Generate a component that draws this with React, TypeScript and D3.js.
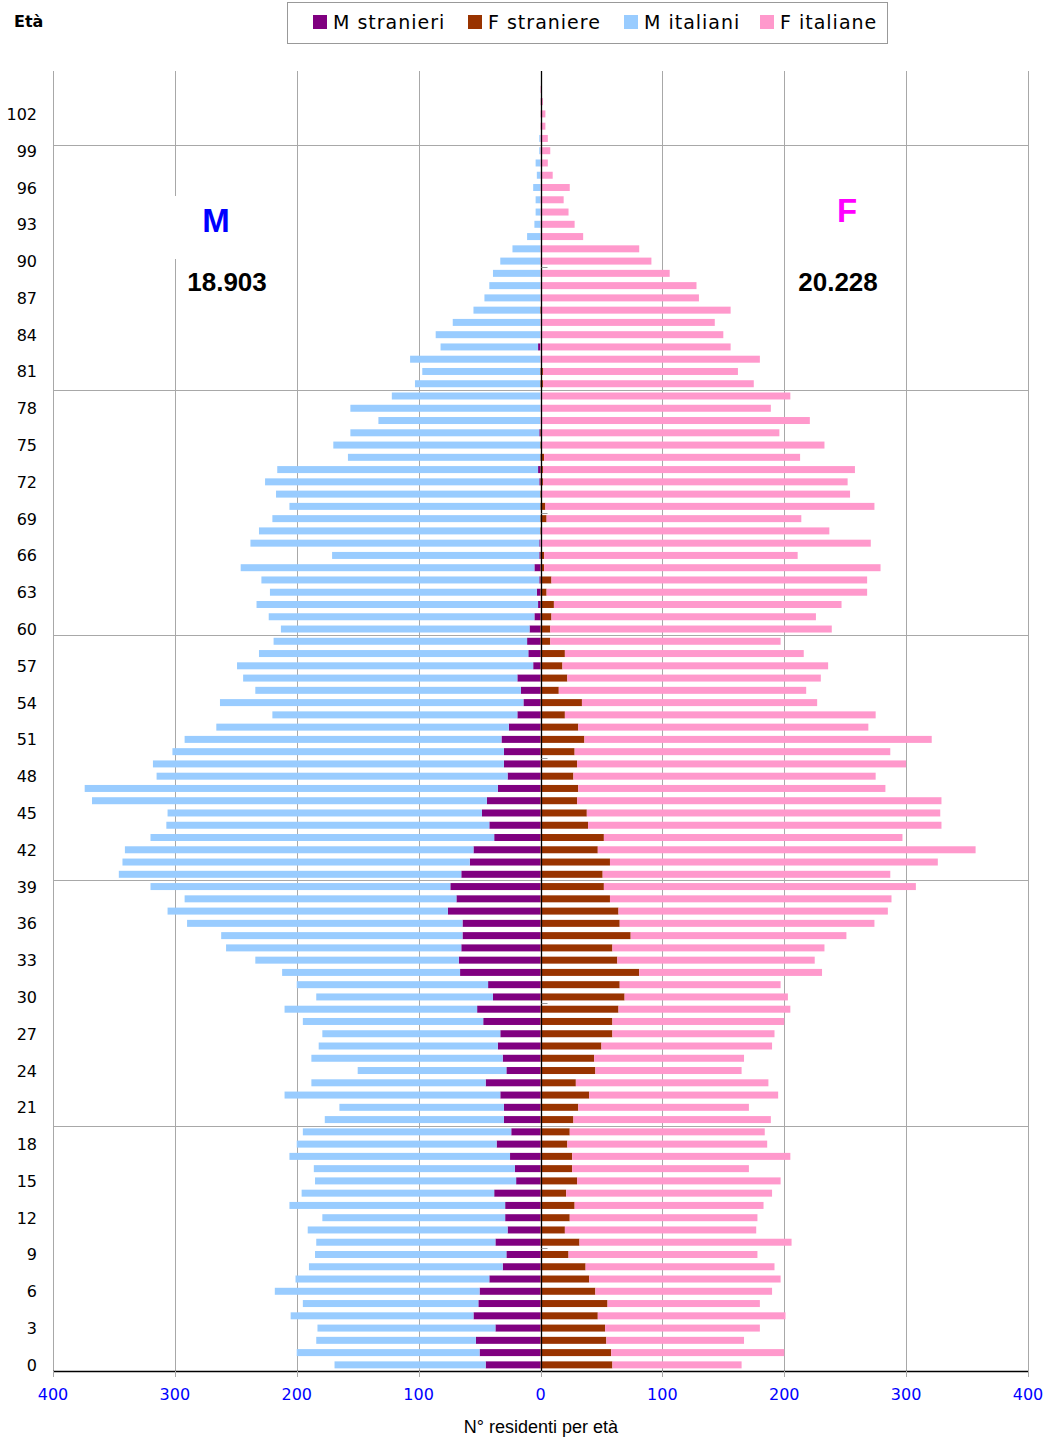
import React, { useEffect, useRef } from "react";
import * as d3 from "d3";

// età 0..105
const ages = d3.range(0, 106);

const mStranieri = [
  45, 50, 53, 37, 55, 51, 50, 42, 31, 28,
  37, 27, 29, 29, 38, 20, 21, 25, 36, 24,
  30, 30, 33, 45, 28, 31, 35, 33, 47, 52,
  39, 43, 66, 67, 65, 64, 64, 76, 69, 74,
  65, 58, 55, 38, 42, 48, 44, 35, 27, 30,
  30, 32, 26, 19, 14, 16, 19, 6, 10, 11,
  9, 5, 2, 3, 1, 5, 1, 1, 0, 0,
  0, 0, 1, 2, 0, 0, 1, 0, 0, 0,
  0, 0, 0, 2, 0, 0, 0, 0, 0, 0,
  0, 0, 0, 0, 0, 0, 0, 0, 0, 0,
  0, 0, 0, 0, 0, 0,
];

const mItaliani = [
  124, 150, 131, 146, 150, 144, 168, 159, 159, 157,
  147, 164, 150, 177, 158, 165, 165, 181, 164, 171,
  147, 135, 177, 143, 122, 157, 147, 146, 148, 158,
  145, 157, 146, 167, 193, 198, 226, 230, 223, 246,
  281, 285, 286, 282, 265, 258, 324, 339, 288, 288,
  272, 260, 240, 201, 249, 218, 225, 243, 221, 208,
  204, 218, 231, 219, 228, 241, 170, 237, 231, 220,
  206, 217, 225, 214, 158, 170, 155, 133, 156, 122,
  103, 97, 107, 80, 86, 72, 55, 46, 42, 39,
  33, 23, 11, 5, 4, 4, 6, 3, 4, 1,
  1, 0, 0, 0, 0, 0,
];

const fStraniere = [
  59, 58, 54, 53, 47, 55, 45, 40, 37, 23,
  32, 20, 24, 28, 21, 30, 26, 26, 22, 24,
  27, 31, 40, 29, 45, 44, 50, 59, 59, 64,
  69, 65, 81, 63, 59, 74, 65, 64, 57, 52,
  51, 57, 47, 52, 39, 38, 30, 31, 27, 30,
  28, 36, 31, 20, 34, 15, 22, 18, 20, 8,
  8, 9, 11, 5, 9, 3, 3, 0, 1, 5,
  4, 1, 2, 2, 3, 1, 1, 0, 0, 0,
  2, 2, 0, 0, 0, 0, 1, 0, 0, 0,
  0, 0, 0, 0, 0, 0, 0, 0, 0, 0,
  0, 0, 0, 0, 0, 0,
];

const fItaliane = [
  106, 142, 113, 127, 154, 125, 145, 157, 155, 155,
  174, 157, 154, 155, 169, 167, 145, 179, 164, 160,
  162, 140, 155, 158, 120, 123, 140, 133, 141, 141,
  134, 132, 150, 162, 174, 177, 209, 221, 231, 256,
  236, 269, 310, 245, 290, 290, 299, 252, 248, 270,
  259, 285, 238, 255, 193, 203, 208, 218, 196, 189,
  231, 217, 236, 263, 259, 276, 208, 271, 236, 209,
  270, 253, 250, 256, 210, 232, 195, 221, 189, 205,
  173, 160, 180, 156, 150, 143, 155, 130, 128, 106,
  91, 81, 35, 28, 23, 19, 24, 10, 6, 8,
  6, 4, 4, 2, 1, 0,
];

const xTicks = [-400, -300, -200, -100, 0, 100, 200, 300, 400];
const legendItems = ["M stranieri", "F straniere", "M italiani", "F italiane"];
const colors = ["#800080", "#993300", "#99ccff", "#ff99cc"];
const totM = "18.903";
const totF = "20.228";

const W = 1044;
const H = 1438;

const App = () => {
  const ref = useRef<SVGSVGElement | null>(null);

  useEffect(() => {
    const svg = d3.select(ref.current);
    svg.selectAll("*").remove();

    const left = 53, right = 1028, top = 71, bottom = 1371;
    const x = d3.scaleLinear().domain([-400, 400]).range([left, right]);
    const y = d3
      .scaleBand<number>()
      .domain([...ages].reverse())
      .range([top, bottom])
      .paddingInner(0.43)
      .paddingOuter(0.215);
    const yLin = d3.scaleLinear().domain([-0.5, 105.5]).range([bottom, top]);
    const font = "DejaVu Sans, Verdana, sans-serif";
    const arial = "Liberation Sans, Arial, sans-serif";

    // griglia verticale
    svg
      .append("g")
      .selectAll("line")
      .data(xTicks.filter((d) => d !== 0))
      .enter()
      .append("line")
      .attr("x1", (d) => Math.round(x(d)) + 0.5)
      .attr("x2", (d) => Math.round(x(d)) + 0.5)
      .attr("y1", top)
      .attr("y2", bottom)
      .attr("stroke", "#a8a8a8")
      .attr("stroke-width", 1);

    // griglia orizzontale ogni 20 età
    svg
      .append("g")
      .selectAll("line")
      .data([19.5, 39.5, 59.5, 79.5, 99.5])
      .enter()
      .append("line")
      .attr("x1", left)
      .attr("x2", right)
      .attr("y1", (d) => Math.round(yLin(d)) + 0.5)
      .attr("y2", (d) => Math.round(yLin(d)) + 0.5)
      .attr("stroke", "#a8a8a8")
      .attr("stroke-width", 1);

    // riquadro bianco dietro la "M"
    svg
      .append("rect")
      .attr("x", 160)
      .attr("y", 196)
      .attr("width", 110)
      .attr("height", 63)
      .attr("fill", "#fff");

    const bars = svg.append("g");
    const bh = y.bandwidth();

    // maschi: stranieri vicino all'asse, italiani all'esterno
    bars
      .selectAll("rect.ms")
      .data(ages)
      .enter()
      .append("rect")
      .attr("x", (a) => x(-mStranieri[a]))
      .attr("y", (a) => y(a)!)
      .attr("width", (a) => x(0) - x(-mStranieri[a]))
      .attr("height", bh)
      .attr("fill", colors[0]);

    bars
      .selectAll("rect.mi")
      .data(ages)
      .enter()
      .append("rect")
      .attr("x", (a) => x(-(mStranieri[a] + mItaliani[a])))
      .attr("y", (a) => y(a)!)
      .attr("width", (a) => x(-mStranieri[a]) - x(-(mStranieri[a] + mItaliani[a])))
      .attr("height", bh)
      .attr("fill", colors[2]);

    bars
      .selectAll("rect.fs")
      .data(ages)
      .enter()
      .append("rect")
      .attr("x", x(0))
      .attr("y", (a) => y(a)!)
      .attr("width", (a) => x(fStraniere[a]) - x(0))
      .attr("height", bh)
      .attr("fill", colors[1]);

    bars
      .selectAll("rect.fi")
      .data(ages)
      .enter()
      .append("rect")
      .attr("x", (a) => x(fStraniere[a]))
      .attr("y", (a) => y(a)!)
      .attr("width", (a) => x(fStraniere[a] + fItaliane[a]) - x(fStraniere[a]))
      .attr("height", bh)
      .attr("fill", colors[3]);

    // asse verticale (zero) con tacche ogni 10 età
    const x0 = Math.round(x(0)) + 0.5;
    svg
      .append("line")
      .attr("x1", x0)
      .attr("x2", x0)
      .attr("y1", top)
      .attr("y2", bottom)
      .attr("stroke", "#000")
      .attr("stroke-width", 1.3);

    svg
      .append("g")
      .selectAll("line")
      .data([9.5, 29.5, 49.5, 69.5, 89.5])
      .enter()
      .append("line")
      .attr("x1", x0)
      .attr("x2", x0 + 6)
      .attr("y1", (d) => Math.round(yLin(d)) + 0.5)
      .attr("y2", (d) => Math.round(yLin(d)) + 0.5)
      .attr("stroke", "#999");

    // asse orizzontale
    svg
      .append("line")
      .attr("x1", left)
      .attr("x2", right)
      .attr("y1", bottom + 0.5)
      .attr("y2", bottom + 0.5)
      .attr("stroke", "#000")
      .attr("stroke-width", 1.3);

    svg
      .append("g")
      .selectAll("line")
      .data(xTicks)
      .enter()
      .append("line")
      .attr("x1", (d) => Math.round(x(d)) + 0.5)
      .attr("x2", (d) => Math.round(x(d)) + 0.5)
      .attr("y1", bottom)
      .attr("y2", bottom + 6)
      .attr("stroke", "#a8a8a8");

    svg
      .append("g")
      .selectAll("text")
      .data(xTicks)
      .enter()
      .append("text")
      .attr("x", (d) => x(d))
      .attr("y", 1400)
      .attr("text-anchor", "middle")
      .style("font-family", font)
      .style("font-size", "16px")
      .attr("fill", "#0000ff")
      .text((d) => Math.abs(d));

    // etichette età
    svg
      .append("g")
      .selectAll("text")
      .data(ages.filter((a) => a % 3 === 0 && a <= 102))
      .enter()
      .append("text")
      .attr("x", 37)
      .attr("y", (a) => yLin(a) + 6)
      .attr("text-anchor", "end")
      .style("font-family", font)
      .style("font-size", "16px")
      .attr("fill", "#000")
      .text((a) => a);

    svg
      .append("text")
      .attr("x", 14)
      .attr("y", 27)
      .style("font-family", font)
      .style("font-size", "16px")
      .style("font-weight", "bold")
      .text("Età");

    svg
      .append("text")
      .attr("x", 541)
      .attr("y", 1433)
      .attr("text-anchor", "middle")
      .style("font-family", arial)
      .style("font-size", "18px")
      .text("N° residenti per età");

    // etichette M / F e totali
    svg
      .append("text")
      .attr("x", 216)
      .attr("y", 232)
      .attr("text-anchor", "middle")
      .style("font-family", arial)
      .style("font-size", "33px")
      .style("font-weight", "bold")
      .attr("fill", "#0000ff")
      .text("M");

    svg
      .append("text")
      .attr("x", 847)
      .attr("y", 222)
      .attr("text-anchor", "middle")
      .style("font-family", arial)
      .style("font-size", "33px")
      .style("font-weight", "bold")
      .attr("fill", "#ff00ff")
      .text("F");

    svg
      .append("text")
      .attr("x", 227)
      .attr("y", 291)
      .attr("text-anchor", "middle")
      .style("font-family", arial)
      .style("font-size", "26px")
      .style("font-weight", "bold")
      .text(totM);

    svg
      .append("text")
      .attr("x", 838)
      .attr("y", 291)
      .attr("text-anchor", "middle")
      .style("font-family", arial)
      .style("font-size", "26px")
      .style("font-weight", "bold")
      .text(totF);

    // legenda
    const lg = svg.append("g");
    lg.append("rect")
      .attr("x", 287.5)
      .attr("y", 2.5)
      .attr("width", 600)
      .attr("height", 41)
      .attr("fill", "#fff")
      .attr("stroke", "#999");

    const legendX = [313, 468, 624, 760];
    legendItems.forEach((t, i) => {
      lg.append("rect")
        .attr("x", legendX[i])
        .attr("y", 15)
        .attr("width", 14)
        .attr("height", 14)
        .attr("fill", colors[i]);
      lg.append("text")
        .attr("x", legendX[i] + 20)
        .attr("y", 29)
        .style("font-family", font)
        .style("font-size", "19px")
        .style("letter-spacing", "1px")
        .text(t);
    });
  }, []);

  return (
    <svg
      ref={ref}
      width={W}
      height={H}
      style={{ position: "absolute", left: 0, top: 0, background: "#fff" }}
    />
  );
};

export default App;
